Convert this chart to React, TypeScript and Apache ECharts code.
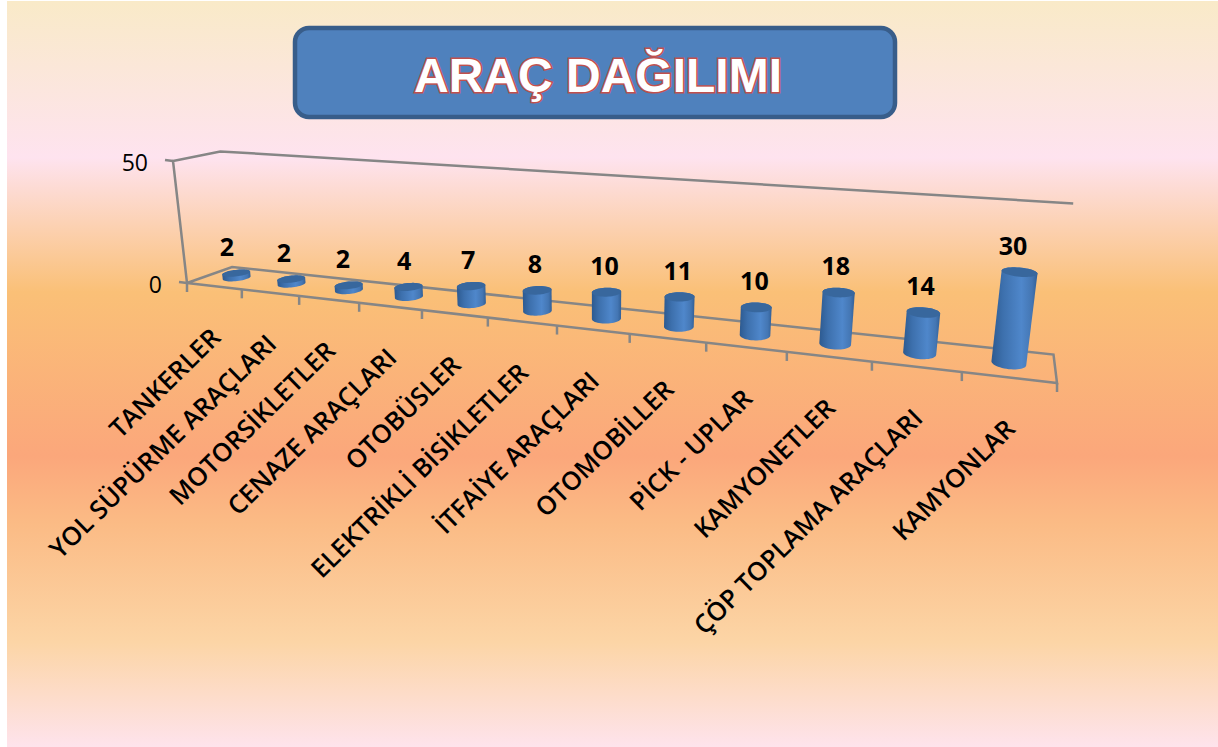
import React, { useEffect, useRef } from "react";
import * as echarts from "echarts";

const TITLE = "ARAÇ DAĞILIMI";
const categories = [
  "TANKERLER",
  "YOL SÜPÜRME ARAÇLARI",
  "MOTORSİKLETLER",
  "CENAZE ARAÇLARI",
  "OTOBÜSLER",
  "ELEKTRİKLİ BİSİKLETLER",
  "İTFAİYE ARAÇLARI",
  "OTOMOBİLLER",
  "PİCK - UPLAR",
  "KAMYONETLER",
  "ÇÖP TOPLAMA ARAÇLARI",
  "KAMYONLAR",
];
const values = [2, 2, 2, 4, 7, 8, 10, 11, 10, 18, 14, 30];
const yTicks = [0, 50];

const W = 1218;
const H = 747;
const LABEL_FONT = "'Open Sans', 'Noto Sans', sans-serif";
const AXIS_COLOR = "#868686";

// Perspective of the 3D box: s runs along the categories, d into the depth, h up the value axis (each 0..1).
const persp = { a: -0.26, b: 0.058, c: -0.033 };
const origin = [187, 283];
const sVec = [595.2, 0.42];
const dVec = [58.5, -0.5];
const hVec = [-19.7, -127.3];
function project(s: number, d: number, h: number): [number, number] {
  const w = 1 + persp.a * s + persp.b * d + persp.c * h;
  return [
    (origin[0] + sVec[0] * s + dVec[0] * d + hVec[0] * h) / w,
    (origin[1] + sVec[1] * s + dVec[1] * d + hVec[1] * h) / w,
  ];
}

function hull(points: number[][]) {
  const pts = points.slice().sort((p, q) => p[0] - q[0] || p[1] - q[1]);
  const cross = (o: number[], p: number[], q: number[]) =>
    (p[0] - o[0]) * (q[1] - o[1]) - (p[1] - o[1]) * (q[0] - o[0]);
  const lower: number[][] = [];
  for (const p of pts) {
    while (lower.length >= 2 && cross(lower[lower.length - 2], lower[lower.length - 1], p) <= 0) lower.pop();
    lower.push(p);
  }
  const upper: number[][] = [];
  for (let i = pts.length - 1; i >= 0; i--) {
    const p = pts[i];
    while (upper.length >= 2 && cross(upper[upper.length - 2], upper[upper.length - 1], p) <= 0) upper.pop();
    upper.push(p);
  }
  return lower.slice(0, -1).concat(upper.slice(0, -1));
}

const RADIUS_S = 0.19; // in category widths
const RADIUS_D = 0.215; // in depth units
const RING = 48;

function frac(api: any, params: any, i: number, v: number) {
  const cs = params.coordSys;
  const c = api.coord([i, v]);
  return { s: (c[0] - cs.x) / cs.width, h: (cs.y + cs.height - c[1]) / cs.height, band: api.size([1, 0])[0] / cs.width };
}

const renderCylinder = (params: any, api: any) => {
  const i = api.value(0);
  const v = api.value(1);
  const { s, h, band } = frac(api, params, i, v);
  const ring = (hh: number) => {
    const out: number[][] = [];
    for (let k = 0; k < RING; k++) {
      const t = (k / RING) * Math.PI * 2;
      out.push(project(s + Math.cos(t) * RADIUS_S * band, 0.5 + Math.sin(t) * RADIUS_D, hh));
    }
    return out;
  };
  const base = ring(0);
  const top = ring(h);
  const topCenter = project(s, 0.5, h);
  const midCenter = project(s, 0.5, h / 2);
  const sideFill = new echarts.graphic.LinearGradient(0, 0, 1, 0, [
    { offset: 0, color: "#2d5a90" },
    { offset: 0.25, color: "#3d70ad" },
    { offset: 0.65, color: "#4f87cb" },
    { offset: 0.88, color: "#4476b3" },
    { offset: 1, color: "#315f96" },
  ]);
  return {
    type: "group",
    children: [
      { type: "polygon", shape: { points: hull(base.concat(top)) }, style: { fill: sideFill } },
      { type: "polygon", shape: { points: top }, style: { fill: "#38679d" } },
      {
        type: "text",
        x: midCenter[0] - 9.8 * Math.pow(1 - s, 3) - 1,
        y: topCenter[1] - 27,
        style: {
          text: String(v),
          fontFamily: LABEL_FONT,
          fontWeight: 700,
          fontSize: 25,
          fill: "#000",
          align: "center",
          verticalAlign: "middle",
        },
      },
    ],
  };
};

const renderCategoryLabel = (params: any, api: any) => {
  const i = api.value(0);
  const { s } = frac(api, params, i, 0);
  const p = project(s, 0, 0);
  return {
    type: "text",
    x: p[0] + 1,
    y: p[1] + 46,
    rotation: (44.5 * Math.PI) / 180,
    style: {
      text: categories[i],
      fontFamily: LABEL_FONT,
      fontWeight: 600,
      fontSize: 25.6,
      fill: "#000",
      align: "right",
      verticalAlign: "middle",
    },
  };
};

const renderFrame = (params: any, api: any) => {
  const cs = params.coordSys;
  const line = { stroke: AXIS_COLOR, lineWidth: 2.5, fill: "none" };
  const children: any[] = [];
  const poly = (pts: number[][], closed = false) =>
    children.push({ type: closed ? "polygon" : "polyline", shape: { points: pts }, style: { ...line } });
  poly([project(0, 0, 0), project(0, 1, 0), project(1, 1, 0), project(1, 0, 0)], true);
  poly([project(0, 0, 0), project(0, 0, 1), project(0, 1, 1), project(1, 1, 1)]);
  const band = api.size([1, 0])[0] / cs.width;
  for (let i = 0; i <= categories.length; i++) {
    const p = project(i * band, 0, 0);
    poly([p, [p[0], p[1] + 9]]);
  }
  yTicks.forEach((t) => {
    const h = (cs.y + cs.height - api.coord([0, t])[1]) / cs.height;
    const p = project(0, 0, h);
    poly([p, [p[0] - 8, p[1] - 1]]);
    children.push({
      type: "text",
      x: p[0] - 25,
      y: p[1] + 0.5,
      style: {
        text: String(t),
        fontFamily: LABEL_FONT,
        fontSize: 23,
        fill: "#000",
        align: "right",
        verticalAlign: "middle",
      },
    });
  });
  return { type: "group", children };
};

export default function App() {
  const ref = useRef<HTMLDivElement>(null);
  useEffect(() => {
    document.body.style.margin = "0";
    const chart = echarts.init(ref.current!, undefined, { renderer: "svg" });
    const points = values.map((v, i) => [i, v]);
    chart.setOption({
      animation: false,
      backgroundColor: "#fff",
      grid: { left: 187, right: W - 1057, top: 161, bottom: H - 283 },
      xAxis: { type: "category", data: categories, show: false },
      yAxis: { type: "value", min: 0, max: 50, interval: 50, show: false },
      title: {
        text: TITLE,
        left: 593,
        top: 46,
        textAlign: "center",
        textStyle: {
          fontFamily: "'Liberation Sans', Arial, sans-serif",
          fontWeight: 700,
          fontSize: 48,
          color: "#fff",
          textBorderColor: "#c0504d",
          textBorderWidth: 3,
        },
      },
      graphic: [
        {
          type: "rect",
          silent: true,
          z: -10,
          shape: { x: 7, y: 1, width: W - 7, height: H - 1 },
          style: {
            fill: new echarts.graphic.LinearGradient(0, 0, 0, 1, [
              { offset: 0, color: "#f9eac8" },
              { offset: 0.21, color: "#fee3ef" },
              { offset: 0.39, color: "#fac077" },
              { offset: 0.61, color: "#fba77b" },
              { offset: 0.7, color: "#fbbb85" },
              { offset: 0.86, color: "#fcd5a6" },
              { offset: 1, color: "#fee3ec" },
            ]),
          },
        },
        {
          type: "rect",
          silent: true,
          z: 0,
          shape: { x: 295, y: 28, width: 600, height: 89, r: 14 },
          style: { fill: "#4f81bd", stroke: "#385d8a", lineWidth: 4.5 },
        },
      ],
      series: [
        { type: "custom", name: "frame", coordinateSystem: "cartesian2d", data: [[0, 0]], renderItem: renderFrame, encode: { x: 0, y: 1 }, clip: false, z: 1 },
        { type: "custom", name: "labels", coordinateSystem: "cartesian2d", data: points, renderItem: renderCategoryLabel, encode: { x: 0, y: 1 }, clip: false, z: 2 },
        { type: "custom", name: "Araç", coordinateSystem: "cartesian2d", data: points, renderItem: renderCylinder, encode: { x: 0, y: 1 }, clip: false, z: 3 },
      ],
    });
    return () => chart.dispose();
  }, []);
  return <div ref={ref} style={{ width: W, height: H, position: "fixed", left: 0, top: 0 }} />;
}
